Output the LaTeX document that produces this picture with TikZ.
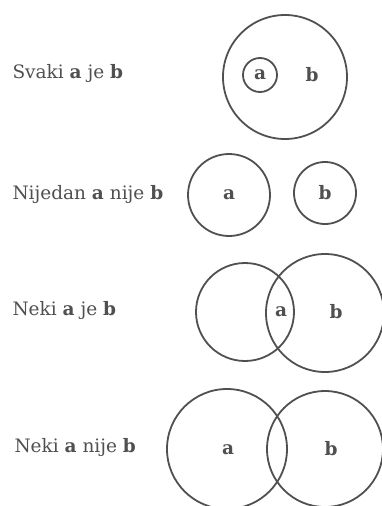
\documentclass[tikz,border=0pt]{standalone}
\usepackage{fontspec}
\setmainfont{DejaVu Serif}
\usepackage{tikz}
\definecolor{ink}{RGB}{80,80,80}
\tikzset{set/.style={circle, draw=ink, line width=1.8pt, inner sep=0pt}}
\tikzset{txt/.style={font=\fontsize{18.5}{22}\selectfont, text=ink, anchor=west}}
\tikzset{var/.style={font=\fontsize{18.5}{22}\selectfont\bfseries, text=ink}}

\begin{document}
\begin{tikzpicture}[x=1pt, y=-1pt]

    \useasboundingbox (0,0) rectangle (382,506);

    % Svaki a je b
    \node[txt] (t1) at (9,74) {Svaki \textbf{a} je \textbf{b}};
    \node[set, minimum size=124pt] (b1) at (285,77) {};
    \node[set, minimum size=34pt] (a1) at (260,75) {};
    \node[var] (la1) at (a1.center) {a};
    \node[var] (lb1) at (312,75) {b};

    % Nijedan a nije b
    \node[txt] (t2) at (9,195) {Nijedan \textbf{a} nije \textbf{b}};
    \node[set, minimum size=82pt] (a2) at (229,195) {};
    \node[set, minimum size=62pt] (b2) at (325,193) {};
    \node[var] (la2) at (a2.center) {a};
    \node[var] (lb2) at (b2.center) {b};

    % Neki a je b
    \node[txt] (t3) at (9,311) {Neki \textbf{a} je \textbf{b}};
    \node[set, minimum size=98pt] (a3) at (245,312) {};
    \node[set, minimum size=118pt] (b3) at (325,313) {};
    \node[var] (la3) at (281,312) {a};
    \node[var] (lb3) at (336,312) {b};

    % Neki a nije b
    \node[txt] (t4) at (11,448) {Neki \textbf{a} nije \textbf{b}};
    \node[set, minimum size=120pt] (a4) at (227,449) {};
    \node[set, minimum size=116pt] (b4) at (325,449) {};
    \node[var] (la4) at (228,450) {a};
    \node[var] (lb4) at (331,449) {b};

\end{tikzpicture}
\end{document}
